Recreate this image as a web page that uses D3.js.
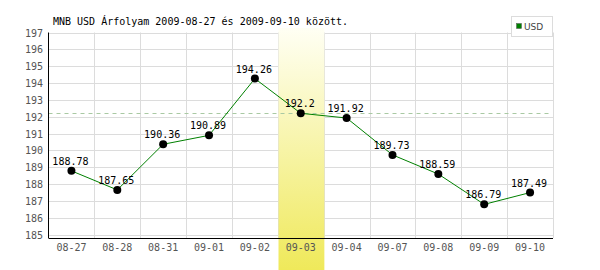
<!DOCTYPE html>
<html>
<head>
<meta charset="utf-8">
<script src="https://cdn.jsdelivr.net/npm/d3@7"></script>
<style>
  body { margin: 0; background: #fff; }
  svg { display: block; }
</style>
</head>
<body>
<div id="chart"></div>
<script>
// Data
var title = "MNB USD Árfolyam 2009-08-27 és 2009-09-10 között.";
var dates = ["08-27", "08-28", "08-31", "09-01", "09-02", "09-03", "09-04", "09-07", "09-08", "09-09", "09-10"];
var rates = [188.78, 187.65, 190.36, 190.89, 194.26, 192.2, 191.92, 189.73, 188.59, 186.79, 187.49];
var yTicks = [185, 186, 187, 188, 189, 190, 191, 192, 193, 194, 195, 196, 197];
var average = 192.2;
var highlightDate = "09-03";
var seriesName = "USD";

var w = 600, h = 270;
var plotLeft = 48.5, plotRight = 553, plotTop = 32.5, plotBottom = 234.5, axisY = 238;
var font = "'DejaVu Sans Mono', monospace";

var svg = d3.select("#chart").append("svg")
    .attr("width", w)
    .attr("height", h);

var xScale = d3.scaleBand()
    .domain(dates)
    .range([plotLeft, plotRight]);

var yScale = d3.scaleLinear()
    .domain([d3.min(yTicks), d3.max(yTicks)])
    .range([plotBottom, plotTop]);

// Highlight gradient
var grad = svg.append("defs").append("linearGradient")
    .attr("id", "hl")
    .attr("x1", 0).attr("y1", 0).attr("x2", 0).attr("y2", 1);
grad.append("stop").attr("offset", "0%").attr("stop-color", "#fffff4");
grad.append("stop").attr("offset", "100%").attr("stop-color", "#efe95a");

// Horizontal grid
svg.append("g").selectAll("line")
    .data(yTicks)
    .enter().append("line")
    .attr("x1", plotLeft).attr("x2", plotRight)
    .attr("y1", function(d) { return Math.round(yScale(d)) + 0.5; })
    .attr("y2", function(d) { return Math.round(yScale(d)) + 0.5; })
    .attr("stroke", "#dcdcdc");

// Vertical grid (right edge of each band)
svg.append("g").selectAll("line")
    .data(dates)
    .enter().append("line")
    .attr("x1", function(d) { return Math.round(xScale(d) + xScale.bandwidth()) + 0.5; })
    .attr("x2", function(d) { return Math.round(xScale(d) + xScale.bandwidth()) + 0.5; })
    .attr("y1", plotTop).attr("y2", axisY)
    .attr("stroke", "#dcdcdc");

// Highlight band
svg.append("rect")
    .attr("x", Math.round(xScale(highlightDate)) + 0.5)
    .attr("y", 28)
    .attr("width", xScale.bandwidth())
    .attr("height", h - 28)
    .attr("fill", "url(#hl)");

// Average dashed line
svg.append("line")
    .attr("x1", plotLeft).attr("x2", plotRight - 3)
    .attr("y1", Math.round(yScale(average)) + 0.5)
    .attr("y2", Math.round(yScale(average)) + 0.5)
    .attr("stroke", "#a9c9a3")
    .attr("stroke-dasharray", "4,4");

// Axes lines
svg.append("line")
    .attr("x1", plotLeft).attr("x2", plotLeft)
    .attr("y1", plotTop).attr("y2", axisY)
    .attr("stroke", "#000");
svg.append("line")
    .attr("x1", plotLeft).attr("x2", plotRight)
    .attr("y1", axisY + 0.5).attr("y2", axisY + 0.5)
    .attr("stroke", "#000");

// Y labels
svg.append("g").selectAll("text")
    .data(yTicks)
    .enter().append("text")
    .attr("x", 43)
    .attr("y", function(d) { return yScale(d) + 4; })
    .attr("text-anchor", "end")
    .attr("font-family", font)
    .attr("font-size", "10px")
    .attr("fill", "#555")
    .text(function(d) { return d; });

// X labels
svg.append("g").selectAll("text")
    .data(dates)
    .enter().append("text")
    .attr("x", function(d) { return xScale(d) + xScale.bandwidth() / 2; })
    .attr("y", 251)
    .attr("text-anchor", "middle")
    .attr("font-family", font)
    .attr("font-size", "10px")
    .attr("fill", "#555")
    .text(function(d) { return d; });

// Line
var line = d3.line()
    .x(function(d, i) { return xScale(dates[i]) + xScale.bandwidth() / 2; })
    .y(function(d) { return yScale(d); });

svg.append("path")
    .datum(rates)
    .attr("d", line)
    .attr("fill", "none")
    .attr("stroke", "#008000")
    .attr("stroke-width", 1);

// Points
svg.append("g").selectAll("circle")
    .data(rates)
    .enter().append("circle")
    .attr("cx", function(d, i) { return xScale(dates[i]) + xScale.bandwidth() / 2; })
    .attr("cy", function(d) { return yScale(d); })
    .attr("r", 4)
    .attr("fill", "#000");

// Value labels
svg.append("g").selectAll("text")
    .data(rates)
    .enter().append("text")
    .attr("x", function(d, i) { return xScale(dates[i]) + xScale.bandwidth() / 2 - 1; })
    .attr("y", function(d) { return yScale(d) - 6; })
    .attr("text-anchor", "middle")
    .attr("font-family", font)
    .attr("font-size", "10px")
    .attr("fill", "#000")
    .text(function(d) { return d; });

// Title
svg.append("text")
    .attr("x", 53)
    .attr("y", 25)
    .attr("font-family", font)
    .attr("font-size", "10px")
    .attr("fill", "#000")
    .text(title);

// Legend
var legend = svg.append("g");
legend.append("rect")
    .attr("x", 511.5).attr("y", 16.5)
    .attr("width", 41).attr("height", 20)
    .attr("fill", "#fff")
    .attr("stroke", "#dcdcdc");
legend.append("rect")
    .attr("x", 516.5).attr("y", 23.5)
    .attr("width", 5).attr("height", 5)
    .attr("fill", "#008000")
    .attr("stroke", "#555")
    .attr("stroke-width", 0.5);
legend.append("text")
    .attr("x", 524)
    .attr("y", 30)
    .attr("font-family", "'DejaVu Sans', sans-serif")
    .attr("font-size", "9px")
    .attr("fill", "#444")
    .text(seriesName);
</script>
</body>
</html>
